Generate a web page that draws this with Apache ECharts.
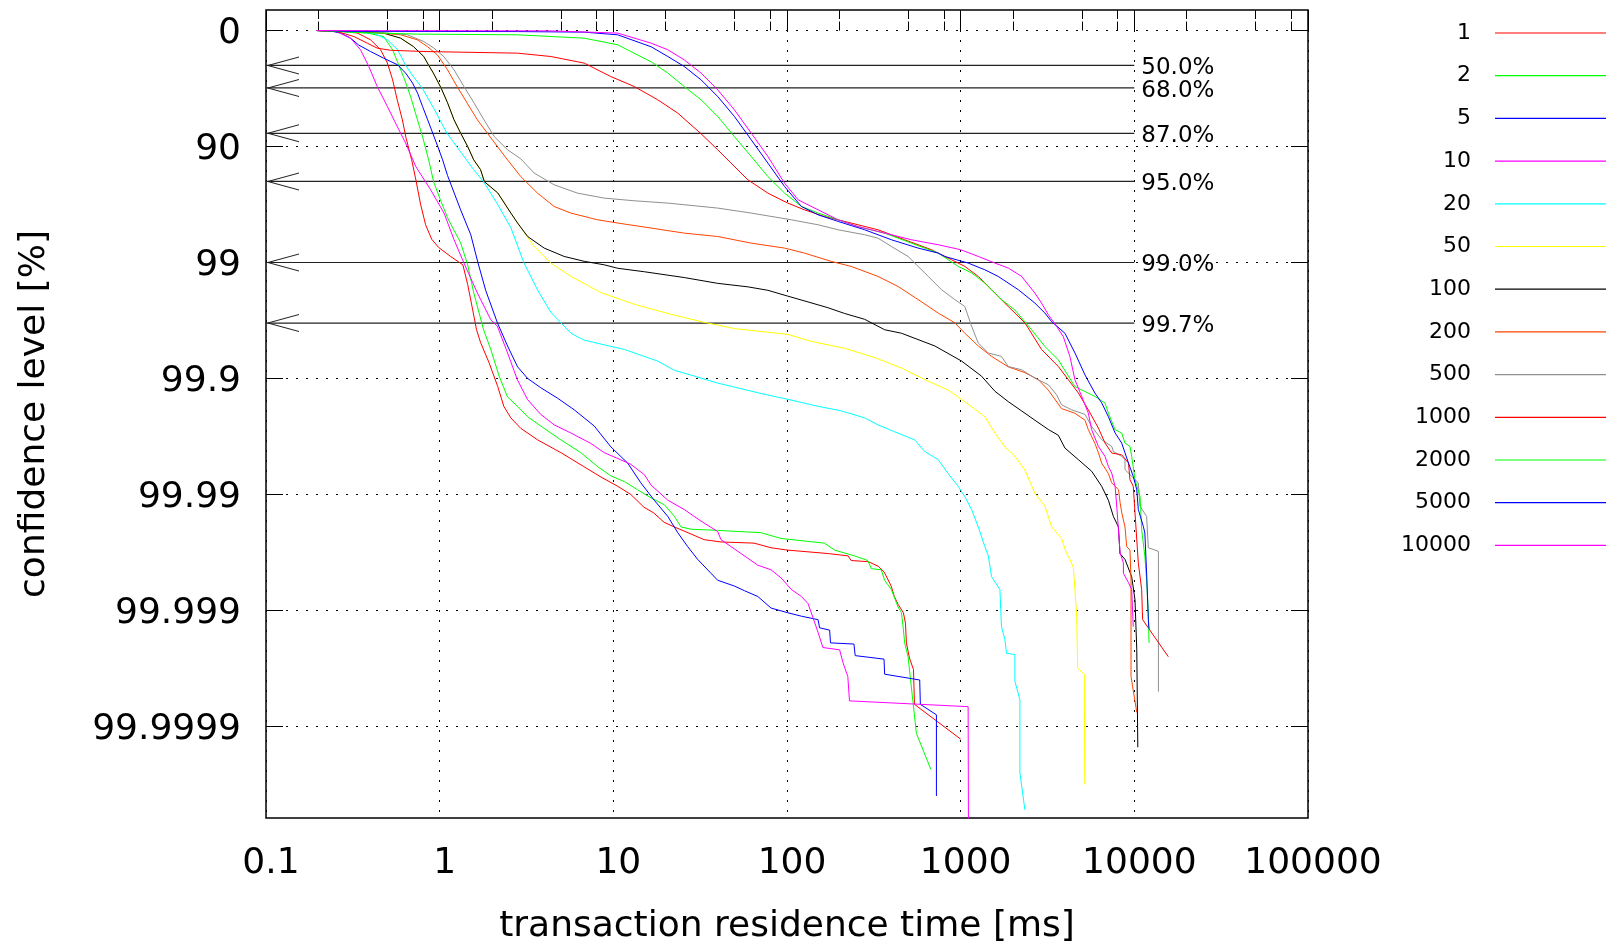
<!DOCTYPE html>
<html>
<head>
<meta charset="utf-8">
<title>confidence level vs residence time</title>
<script src="https://cdn.jsdelivr.net/npm/echarts@6/dist/echarts.min.js"></script>
<style>
  html, body { margin: 0; padding: 0; background: #fff; }
  #main { width: 1608px; height: 942px; }
</style>
</head>
<body>
<div id="main"></div>
<script>
// x = residence time [ms], y = "nines" of the confidence level, i.e. -log10(1 - p/100)
var s1 = [[0.196,0],[0.28,0.009],[0.336,0.022],[0.40,0.08],[0.457,0.166],[0.50,0.28],[0.536,0.425],[0.57,0.6],[0.61,0.77],[0.64,0.925],[0.69,1.115],[0.73,1.29],[0.777,1.50],[0.83,1.675],[0.90,1.80],[0.986,1.87],[1.16,1.95],[1.36,2.02],[1.45,2.19],[1.55,2.41],[1.63,2.58],[1.72,2.69],[1.92,2.86],[2.16,3.07],[2.34,3.24],[2.57,3.34],[2.93,3.43],[3.67,3.53],[4.99,3.64],[6.76,3.76],[8.49,3.85],[10.6,3.93],[12.6,4.0],[15.0,4.11],[17.1,4.16],[19.6,4.24],[22.4,4.28],[26.9,4.33],[33.3,4.39],[41.7,4.41],[64.6,4.42],[80.9,4.46],[101,4.48],[173,4.51],[225,4.53],[234,4.57],[294,4.58],[336,4.62],[363,4.67],[398,4.79],[415,4.88],[437,4.95],[468,5.02],[481,5.11],[487,5.28],[507,5.41],[535,5.51],[542,5.81],[1000,6.11]];
var s2 = [[0.196,0],[0.268,0.007],[0.385,0.022],[0.475,0.052],[0.536,0.166],[0.581,0.296],[0.629,0.425],[0.681,0.572],[0.736,0.744],[0.797,0.916],[0.864,1.115],[0.923,1.304],[1.01,1.46],[1.11,1.615],[1.32,1.83],[1.45,2.02],[1.57,2.26],[1.79,2.58],[1.97,2.75],[2.20,2.98],[2.46,3.16],[2.81,3.24],[3.21,3.33],[3.82,3.41],[4.99,3.53],[6.50,3.64],[8.12,3.76],[9.68,3.84],[11.6,3.89],[13.8,3.96],[16.5,4.03],[19.7,4.09],[22.5,4.19],[24.5,4.28],[28.0,4.30],[39.9,4.31],[70.8,4.33],[92.5,4.38],[164,4.42],[188,4.48],[245,4.53],[292,4.57],[306,4.64],[349,4.65],[365,4.74],[399,4.82],[436,4.97],[456,5.02],[466,5.14],[476,5.28],[498,5.40],[520,5.66],[556,6.06],[673,6.37]];
var s5 = [[0.196,0],[0.235,0.003],[0.268,0.022],[0.307,0.066],[0.341,0.124],[0.40,0.181],[0.475,0.238],[0.573,0.296],[0.637,0.367],[0.698,0.453],[0.746,0.54],[0.797,0.655],[0.853,0.77],[0.912,0.885],[0.975,1.0],[1.04,1.115],[1.11,1.25],[1.32,1.546],[1.51,1.76],[1.66,2.0],[1.84,2.24],[2.15,2.52],[2.46,2.72],[2.81,2.90],[3.21,3.0],[3.82,3.08],[4.77,3.17],[5.95,3.27],[7.76,3.41],[9.68,3.59],[12.1,3.73],[14.4,3.90],[17.2,4.05],[20.6,4.19],[23.5,4.33],[26.8,4.45],[30.6,4.56],[36.5,4.68],[39.9,4.74],[49.8,4.79],[56.9,4.83],[67.9,4.88],[81,4.98],[101,5.02],[121,5.05],[151,5.08],[154,5.15],[176,5.17],[178,5.28],[243,5.29],[247,5.39],[362,5.42],[365,5.55],[581,5.60],[586,5.81],[725,5.90],[725,6.60]];
var s10 = [[0.196,0],[0.257,0.009],[0.307,0.066],[0.35,0.166],[0.391,0.31],[0.437,0.483],[0.50,0.655],[0.57,0.828],[0.637,0.971],[0.728,1.172],[0.887,1.373],[1.06,1.574],[1.21,1.804],[1.38,2.005],[1.65,2.264],[1.97,2.494],[2.15,2.55],[2.46,2.78],[2.80,3.01],[3.2,3.18],[3.82,3.31],[4.56,3.40],[5.69,3.47],[7.42,3.56],[8.86,3.64],[10.6,3.69],[12.6,3.74],[15.1,3.83],[16.5,3.92],[20.6,4.05],[25.6,4.13],[32,4.23],[39.9,4.32],[41.7,4.39],[54.4,4.51],[67.9,4.61],[81,4.65],[92.5,4.72],[106,4.82],[121,4.88],[132,4.94],[138,5.02],[151,5.19],[161,5.32],[201,5.34],[210,5.45],[224,5.57],[229,5.78],[1104,5.83],[1109,6.9]];
var s20 = [[0.196,0],[0.257,0.007],[0.416,0.022],[0.50,0.08],[0.573,0.166],[0.637,0.30],[0.708,0.40],[0.794,0.497],[0.935,0.684],[1.10,0.885],[1.32,1.046],[1.57,1.20],[1.79,1.304],[2.13,1.485],[2.57,1.70],[3.05,2.0],[3.67,2.24],[4.37,2.43],[4.99,2.52],[5.70,2.61],[6.80,2.67],[8.86,2.71],[11.6,2.75],[14.4,2.80],[18.0,2.85],[22.5,2.93],[29.3,2.98],[39.9,3.04],[71,3.13],[101,3.18],[151,3.24],[206,3.28],[280,3.34],[334,3.40],[417,3.46],[544,3.53],[621,3.63],[742,3.70],[847,3.82],[968,3.93],[1057,4.02],[1156,4.13],[1263,4.28],[1378,4.45],[1442,4.53],[1507,4.71],[1683,4.82],[1718,5.14],[1796,5.25],[1837,5.37],[2052,5.38],[2052,5.61],[2193,5.77],[2193,6.40],[2344,6.72]];
var s50 = [[0.196,0],[0.336,0.009],[0.475,0.022],[0.596,0.066],[0.706,0.138],[0.81,0.224],[0.865,0.30],[0.92,0.367],[1.02,0.497],[1.11,0.623],[1.21,0.77],[1.32,0.884],[1.45,1.0],[1.57,1.115],[1.72,1.20],[1.81,1.304],[2.16,1.40],[2.57,1.574],[2.81,1.66],[3.50,1.862],[4.37,2.005],[5.70,2.12],[8.49,2.26],[13.2,2.36],[20.6,2.44],[32,2.51],[49.8,2.57],[101,2.62],[138,2.68],[215,2.74],[320,2.82],[456,2.91],[621,3.01],[847,3.10],[1057,3.20],[1378,3.33],[1574,3.47],[1796,3.59],[2052,3.67],[2344,3.79],[2675,3.99],[3055,4.10],[3340,4.28],[3810,4.38],[4075,4.51],[4256,4.56],[4454,4.63],[4550,4.82],[4656,5.05],[4720,5.50],[5155,5.55],[5180,6.50]];
var s100 = [[0.196,0],[0.336,0.009],[0.475,0.022],[0.596,0.066],[0.706,0.138],[0.81,0.224],[0.865,0.30],[0.92,0.367],[1.02,0.497],[1.11,0.623],[1.21,0.77],[1.32,0.884],[1.45,1.0],[1.57,1.115],[1.72,1.20],[1.81,1.304],[2.16,1.40],[2.57,1.574],[2.81,1.66],[3.21,1.776],[4.0,1.876],[5.21,1.948],[6.80,1.99],[8.86,2.02],[10.6,2.05],[15.1,2.08],[25.6,2.13],[39.9,2.18],[59.5,2.21],[77.6,2.24],[101,2.29],[132,2.34],[172,2.39],[215,2.44],[280,2.49],[365,2.58],[456,2.61],[710,2.72],[1012,2.85],[1318,2.98],[1574,3.11],[1880,3.20],[2244,3.28],[2675,3.36],[3196,3.44],[3650,3.49],[3984,3.60],[4758,3.70],[5678,3.80],[6486,3.93],[7090,4.05],[7576,4.19],[8097,4.28],[8265,4.51],[8836,4.56],[9656,4.71],[10090,4.91],[10330,5.34],[10470,6.18]];
var s200 = [[0.196,0],[0.366,0.009],[0.596,0.037],[0.744,0.08],[0.849,0.138],[0.97,0.21],[1.11,0.339],[1.26,0.483],[1.44,0.626],[1.65,0.77],[1.88,0.884],[2.15,1.0],[2.46,1.115],[2.93,1.259],[3.66,1.402],[4.56,1.517],[5.69,1.574],[8.11,1.632],[10.6,1.66],[16.5,1.703],[25.6,1.747],[39.9,1.776],[62.2,1.833],[96.8,1.876],[126,1.919],[180,1.991],[234,2.034],[334,2.12],[436,2.207],[569,2.32],[742,2.436],[925,2.52],[1057,2.61],[1263,2.72],[1507,2.81],[1880,2.90],[2344,2.95],[2800,3.01],[3196,3.10],[3810,3.26],[4550,3.30],[5200,3.36],[5430,3.44],[5930,3.56],[6210,3.64],[6486,3.73],[7090,3.82],[7410,3.90],[8110,3.96],[8280,4.07],[8470,4.16],[8836,4.28],[9040,4.45],[9440,4.48],[9570,4.74],[9570,5.57],[10330,5.88]];
var s500 = [[0.196,0],[0.40,0.009],[0.652,0.037],[0.811,0.095],[0.927,0.152],[1.06,0.227],[1.21,0.339],[1.38,0.483],[1.58,0.626],[1.80,0.77],[2.06,0.914],[2.46,1.028],[2.93,1.106],[3.50,1.229],[4.56,1.33],[6.22,1.402],[8.86,1.445],[13.2,1.468],[20.6,1.488],[39.9,1.531],[62.2,1.574],[106,1.632],[151,1.675],[197,1.718],[280,1.761],[334,1.79],[399,1.862],[498,1.948],[569,2.034],[650,2.12],[776,2.235],[925,2.32],[1057,2.38],[1156,2.55],[1263,2.695],[1442,2.78],[1718,2.81],[1880,2.897],[2244,2.925],[2675,2.997],[3196,3.054],[3566,3.14],[3810,3.227],[4355,3.27],[5200,3.31],[5678,3.414],[6486,3.528],[7410,3.586],[7576,3.63],[8455,3.672],[8836,3.70],[8836,3.786],[10540,3.90],[10770,4.10],[11770,4.19],[12040,4.46],[13760,4.49],[13760,5.70]];
var s1000 = [[0.196,0],[0.257,0.009],[0.321,0.052],[0.383,0.109],[0.437,0.152],[0.52,0.17],[0.811,0.181],[1.26,0.186],[2.81,0.195],[4.37,0.224],[6.80,0.281],[9.68,0.397],[13.2,0.483],[18.0,0.597],[23.5,0.712],[32,0.89],[39.9,1.028],[47.6,1.143],[59.5,1.287],[77.6,1.402],[101,1.488],[126,1.546],[164,1.603],[234,1.66],[334,1.718],[476,1.804],[679,1.89],[885,1.976],[1057,2.034],[1263,2.12],[1507,2.235],[1880,2.38],[2344,2.52],[2922,2.75],[3650,2.897],[4170,3.011],[4764,3.126],[5430,3.27],[6210,3.428],[6780,3.557],[7410,3.643],[8455,3.658],[9250,3.729],[9440,3.873],[9860,3.93],[10090,4.16],[10540,4.59],[11020,4.82],[11160,5.08],[15700,5.40]];
var s2000 = [[0.196,0],[0.335,0.017],[0.744,0.031],[2.81,0.037],[6.80,0.066],[10.6,0.123],[16.5,0.27],[20.6,0.367],[25.6,0.483],[32,0.597],[39.9,0.741],[49.8,0.914],[62.2,1.086],[77.6,1.259],[96.8,1.402],[121,1.517],[151,1.574],[197,1.632],[256,1.69],[365,1.747],[520,1.833],[742,1.919],[968,2.034],[1156,2.09],[1378,2.178],[1718,2.32],[2052,2.41],[2560,2.58],[3055,2.724],[3650,2.84],[4550,3.07],[5930,3.155],[6780,3.212],[7090,3.30],[7750,3.442],[8455,3.47],[8836,3.557],[9440,3.586],[9656,3.672],[10090,3.873],[10790,4.017],[11020,4.30],[11500,4.535],[11770,4.735],[12040,5.02],[12150,5.28]];
var s5000 = [[0.196,0],[0.307,0.007],[2.81,0.009],[6.8,0.014],[10.6,0.037],[16.5,0.14],[20.6,0.224],[25.6,0.31],[32,0.425],[39.9,0.569],[49.8,0.741],[62.2,0.942],[77.6,1.143],[96.8,1.345],[121,1.517],[151,1.589],[197,1.646],[280,1.718],[399,1.804],[569,1.876],[742,1.919],[809,1.948],[1104,2.005],[1378,2.063],[1644,2.12],[2148,2.235],[2675,2.35],[3055,2.436],[3340,2.51],[3984,2.61],[4550,2.78],[5200,2.97],[5930,3.126],[6486,3.21],[7090,3.33],[7750,3.47],[8455,3.557],[9250,3.729],[9860,3.845],[10330,3.96],[10540,4.13],[11270,4.276],[11500,4.333],[11770,4.678],[12040,5.08],[12150,5.16]];
var s10000 = [[0.196,0],[4.37,0.003],[10.6,0.022],[16.5,0.109],[20.6,0.166],[25.6,0.253],[32,0.367],[39.9,0.511],[49.8,0.684],[62.2,0.884],[77.6,1.086],[96.8,1.316],[116,1.46],[151,1.546],[197,1.632],[256,1.69],[365,1.747],[520,1.804],[742,1.847],[1000,1.89],[1263,1.948],[1574,2.005],[1880,2.048],[2244,2.12],[2675,2.264],[2922,2.35],[3196,2.45],[3566,2.55],[3900,2.64],[4256,2.81],[4550,3.011],[4977,3.155],[5430,3.298],[5678,3.442],[6210,3.586],[6780,3.672],[7090,3.759],[7410,3.816],[7750,3.931],[7920,4.10],[8097,4.30],[8280,4.505],[8650,4.59],[8650,4.68],[9250,4.76],[9656,4.82],[9860,5.14]];

var seriesNames = ['1', '2', '5', '10', '20', '50', '100', '200', '500', '1000', '2000', '5000', '10000'];
var seriesData = [s1, s2, s5, s10, s20, s50, s100, s200, s500, s1000, s2000, s5000, s10000];
var seriesColors = ['#ff0000', '#00ff00', '#0000ff', '#ff00ff', '#00ffff', '#ffff00', '#000000',
                    '#ff4500', '#909090', '#ff0000', '#00ff00', '#0000ff', '#ff00ff'];

var yTickValues = [0, 1, 2, 3, 4, 5, 6];
var yTickLabels = ['0', '90', '99', '99.9', '99.99', '99.999', '99.9999'];
var xMajorTicks = [0.1, 1, 10, 100, 1000, 10000, 100000];
var xMinorTicks = [0.2, 0.5, 0.8, 2, 5, 8, 20, 50, 80, 200, 500, 800,
                   2000, 5000, 8000, 20000, 50000, 80000];

// horizontal marker lines (confidence levels in %)
var confLevels = [50, 68, 87, 95, 99, 99.7];
var refLineFrom = 0.1;
var refLineTo = 10000;

var FONT = 'DejaVu Sans';

function nines(p) {
  return -Math.log10(1 - p / 100);
}

var myChart = echarts.init(document.getElementById('main'), null, { renderer: 'canvas' });

var series = [];

confLevels.forEach(function (p) {
  var n = nines(p);
  series.push({
    type: 'line',
    silent: true,
    clip: false,
    color: '#222',
    lineStyle: { color: '#222', width: 1.2 },
    data: [
      {
        value: [refLineFrom, n],
        // open arrow head at the left end
        symbol: 'path://M33 0L0 9L33 18L33 17L3.8 9L33 1Z',
        symbolSize: [33, 18],
        symbolOffset: [16.5, 0]
      },
      { value: [refLineTo, n], symbol: 'none' }
    ],
    endLabel: {
      show: true,
      formatter: p.toFixed(1) + '%',
      color: '#000',
      fontFamily: FONT,
      fontSize: 23,
      distance: 7,
      offset: [0, 3]
    },
    z: 1
  });
});

seriesNames.forEach(function (name, i) {
  series.push({
    name: name,
    type: 'line',
    data: seriesData[i],
    symbol: 'none',
    color: seriesColors[i],
    lineStyle: { color: seriesColors[i], width: 1 },
    z: 2
  });
});

var option = {
  animation: false,
  backgroundColor: '#fff',
  textStyle: { fontFamily: FONT, color: '#000' },
  grid: {
    left: 266,
    top: 10,
    width: 1042,
    height: 808,
    containLabel: false,
    outerBoundsMode: 'none',
    show: true,
    borderColor: '#000',
    borderWidth: 1.5,
    backgroundColor: 'transparent'
  },
  legend: {
    orient: 'vertical',
    right: 2,
    top: 19,
    padding: 0,
    align: 'right',
    data: seriesNames,
    icon: 'rect',
    itemWidth: 111,
    itemHeight: 1.2,
    itemGap: 14.7,
    textStyle: {
      fontFamily: FONT,
      fontSize: 22,
      color: '#000',
      width: 70,
      align: 'right',
      lineHeight: 28,
      padding: [0, 19, 0, 0]
    }
  },
  xAxis: [
    {
      type: 'log',
      logBase: 10,
      min: 0.1,
      max: 100000,
      position: 'bottom',
      axisLine: { show: false },
      axisTick: { show: true, inside: true, length: 17, customValues: xMajorTicks, lineStyle: { color: '#000' } },
      axisLabel: {
        customValues: xMajorTicks,
        formatter: function (v) { return String(v); },
        fontFamily: FONT,
        fontSize: 36,
        color: '#000',
        margin: 28,
        padding: [0, 0, 0, 10]
      },
      splitLine: { show: true, lineStyle: { color: '#000', type: [2, 8], width: 1 } },
      name: 'transaction residence time [ms]',
      nameLocation: 'middle',
      nameGap: 91,
      nameTextStyle: { fontFamily: FONT, fontSize: 36, color: '#000' }
    },
    {
      type: 'log', logBase: 10, min: 0.1, max: 100000, position: 'bottom',
      axisLine: { show: false },
      axisTick: { show: true, inside: true, length: 9, customValues: xMinorTicks, lineStyle: { color: '#000' } },
      axisLabel: { show: false },
      splitLine: { show: false }
    },
    {
      type: 'log', logBase: 10, min: 0.1, max: 100000, position: 'top',
      axisLine: { show: false },
      axisTick: { show: true, inside: true, length: 17, customValues: xMajorTicks, lineStyle: { color: '#000' } },
      axisLabel: { show: false },
      splitLine: { show: false }
    },
    {
      type: 'log', logBase: 10, min: 0.1, max: 100000, position: 'top',
      axisLine: { show: false },
      axisTick: { show: true, inside: true, length: 9, customValues: xMinorTicks, lineStyle: { color: '#000' } },
      axisLabel: { show: false },
      splitLine: { show: false }
    }
  ],
  yAxis: [
    {
      type: 'value',
      inverse: true,
      min: -0.177,
      max: 6.79,
      position: 'left',
      axisLine: { show: false },
      axisTick: { show: true, inside: true, length: 17, customValues: yTickValues, lineStyle: { color: '#000' } },
      axisLabel: {
        customValues: yTickValues,
        formatter: function (v) {
          return '{v|' + yTickLabels[yTickValues.indexOf(Math.round(v))] + '}';
        },
        rich: {
          v: { fontFamily: FONT, fontSize: 36, color: '#000', padding: [7, 0, 0, 0] }
        },
        fontFamily: FONT,
        fontSize: 36,
        color: '#000',
        margin: 25
      },
      splitLine: { show: true, lineStyle: { color: '#000', type: [2, 8], width: 1 } },
      name: 'confidence level [%]',
      nameLocation: 'middle',
      nameRotate: 90,
      nameGap: 213,
      nameTextStyle: { fontFamily: FONT, fontSize: 36, color: '#000' }
    },
    {
      type: 'value',
      inverse: true,
      min: -0.177,
      max: 6.79,
      position: 'right',
      axisLine: { show: false },
      axisTick: { show: true, inside: true, length: 17, customValues: yTickValues, lineStyle: { color: '#000' } },
      axisLabel: { show: false },
      splitLine: { show: false }
    }
  ],
  series: series
};

myChart.setOption(option);
</script>
</body>
</html>
